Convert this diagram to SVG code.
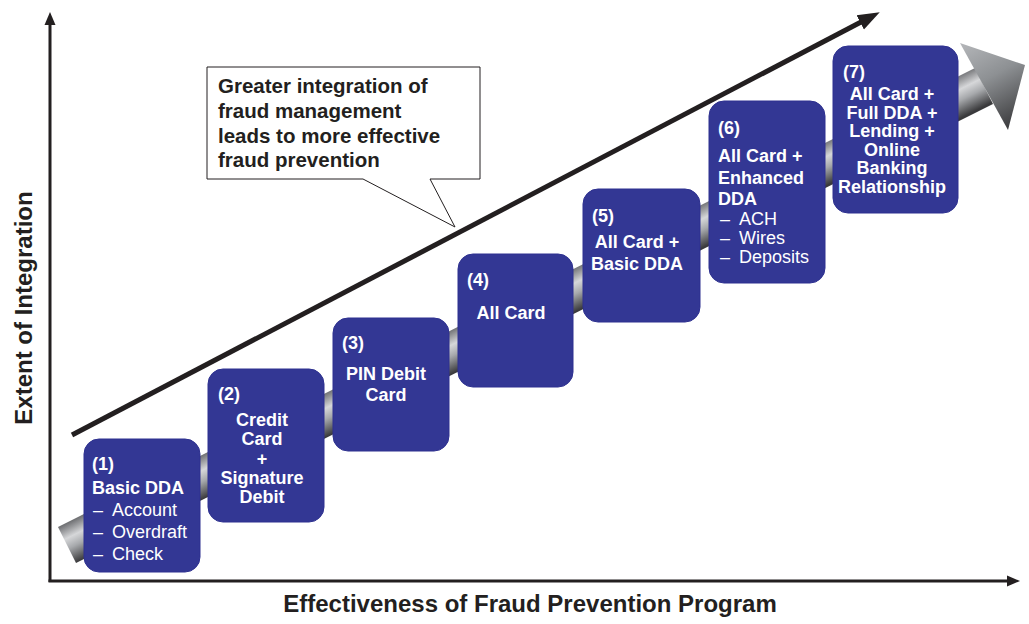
<svg xmlns="http://www.w3.org/2000/svg" width="1029" height="624" viewBox="0 0 1029 624">
<style>
.box{fill:#333794;stroke:#2e3190;stroke-width:1}
.bt{font-family:"Liberation Sans",Arial,sans-serif;font-size:18px;font-weight:bold;fill:#ffffff}
.rt{font-family:"Liberation Sans",Arial,sans-serif;font-size:18px;fill:#ffffff}
.mid{text-anchor:middle}
.ax{stroke:#231f20;stroke-width:3;fill:none}
.lbl{font-family:"Liberation Sans",Arial,sans-serif;font-weight:bold;fill:#231f20}
</style>
<defs>
<linearGradient id="shaft" gradientUnits="userSpaceOnUse" x1="58" y1="527.1" x2="76" y2="562.9">
<stop offset="0" stop-color="#6d6e71"/>
<stop offset="0.35" stop-color="#d6d7d9"/>
<stop offset="0.6" stop-color="#a7a9ac"/>
<stop offset="1" stop-color="#3a3a3c"/>
</linearGradient>
<linearGradient id="head" gradientUnits="userSpaceOnUse" x1="960" y1="43" x2="1008" y2="130">
<stop offset="0" stop-color="#b5b7ba"/>
<stop offset="0.45" stop-color="#8d9093"/>
<stop offset="1" stop-color="#3a3a3c"/>
</linearGradient>
<marker id="ah" markerUnits="userSpaceOnUse" markerWidth="24" markerHeight="20" refX="2" refY="10" orient="auto">
<path d="M0,2 L22,10 L0,18 Z" fill="#231f20"/>
</marker>
</defs>

<g id="axes">
<line class="ax" x1="50" y1="582" x2="50" y2="22"/>
<path d="M50,12 L44.5,25 L55.5,25 Z" fill="#231f20"/>
<line class="ax" x1="48.5" y1="581" x2="1008" y2="581"/>
<path d="M1020,581 L1007,575.5 L1007,586.5 Z" fill="#231f20"/>
<text class="lbl" font-size="24" transform="translate(32,308) rotate(-90)" text-anchor="middle">Extent of Integration</text>
<text class="lbl" font-size="24" x="530" y="612" text-anchor="middle">Effectiveness of Fraud Prevention Program</text>
</g>

<g id="progress-arrow">
<polygon points="58,527 975,68 993,104 76,563" fill="url(#shaft)"/>
<polygon points="960,43 1025,65 1008,130" fill="url(#head)"/>
</g>

<g id="connectors">
<line x1="72" y1="435" x2="862" y2="21.5" stroke="#231f20" stroke-width="5" marker-end="url(#ah)"/>
</g>

<g id="callout">
<path d="M207,67 H480 V179 H430 L455,227 L363,179 H207 Z" fill="#ffffff" stroke="#231f20" stroke-width="1"/>
<text class="lbl" font-size="20.5" x="218">
<tspan x="218" y="93">Greater integration of</tspan>
<tspan x="218" y="118">fraud management</tspan>
<tspan x="218" y="143">leads to more effective</tspan>
<tspan x="218" y="167">fraud prevention</tspan>
</text>
</g>

<g id="node1">
<rect class="box" x="84" y="439" width="116" height="133" rx="15"/>
<text class="bt" x="92" y="470">(1)</text>
<text class="bt" x="92" y="494">Basic DDA</text>
<text class="rt" x="93" y="516">–</text><text class="rt" x="112" y="516">Account</text>
<text class="rt" x="93" y="538">–</text><text class="rt" x="112" y="538">Overdraft</text>
<text class="rt" x="93" y="560">–</text><text class="rt" x="112" y="560">Check</text>
</g>

<g id="node2">
<rect class="box" x="208" y="369" width="116" height="153" rx="15"/>
<text class="bt" x="218" y="400">(2)</text>
<text class="bt mid" x="262" y="426">Credit</text>
<text class="bt mid" x="262" y="445">Card</text>
<text class="bt mid" x="262" y="465">+</text>
<text class="bt mid" x="262" y="484">Signature</text>
<text class="bt mid" x="262" y="503">Debit</text>
</g>

<g id="node3">
<rect class="box" x="333" y="318" width="116" height="133" rx="15"/>
<text class="bt" x="342" y="349">(3)</text>
<text class="bt mid" x="386" y="380">PIN Debit</text>
<text class="bt mid" x="386" y="401">Card</text>
</g>

<g id="node4">
<rect class="box" x="458" y="254" width="115" height="133" rx="15"/>
<text class="bt" x="467" y="286">(4)</text>
<text class="bt mid" x="511" y="319">All Card</text>
</g>

<g id="node5">
<rect class="box" x="583" y="189" width="117" height="133" rx="15"/>
<text class="bt" x="592" y="222">(5)</text>
<text class="bt mid" x="637" y="248">All Card +</text>
<text class="bt mid" x="637" y="270">Basic DDA</text>
</g>

<g id="node6">
<rect class="box" x="709" y="101" width="116" height="182" rx="15"/>
<text class="bt" x="718" y="134">(6)</text>
<text class="bt" x="718" y="162">All Card +</text>
<text class="bt" x="718" y="184">Enhanced</text>
<text class="bt" x="718" y="205">DDA</text>
<text class="rt" x="720" y="225">–</text><text class="rt" x="739" y="225">ACH</text>
<text class="rt" x="720" y="244">–</text><text class="rt" x="739" y="244">Wires</text>
<text class="rt" x="720" y="263">–</text><text class="rt" x="739" y="263">Deposits</text>
</g>

<g id="node7">
<rect class="box" x="833" y="46" width="125" height="167" rx="15"/>
<text class="bt" x="843" y="78">(7)</text>
<text class="bt mid" x="892" y="100">All Card +</text>
<text class="bt mid" x="892" y="118.5">Full DDA +</text>
<text class="bt mid" x="892" y="137">Lending +</text>
<text class="bt mid" x="892" y="155.5">Online</text>
<text class="bt mid" x="892" y="174">Banking</text>
<text class="bt mid" x="892" y="192.5">Relationship</text>
</g>
</svg>
